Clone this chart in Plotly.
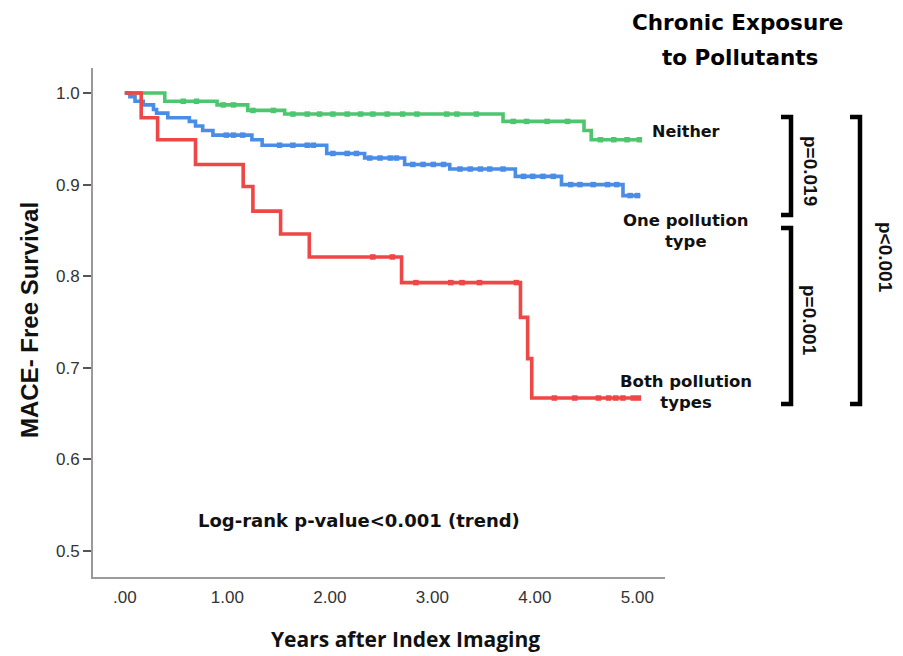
import numpy as np
import plotly.graph_objects as go

# ---------------- data ----------------
x_tick_vals = [0, 1, 2, 3, 4, 5]
x_tick_text = [".00", "1.00", "2.00", "3.00", "4.00", "5.00"]
y_tick_vals = [0.5, 0.6, 0.7, 0.8, 0.9, 1.0]
y_tick_text = ["0.5", "0.6", "0.7", "0.8", "0.9", "1.0"]

neither_t = [0, 0.39, 0.90, 1.20, 1.56, 3.69, 4.48, 4.55, 5.03]
neither_s = [1.0, 0.991, 0.987, 0.981, 0.977, 0.969, 0.959, 0.949, 0.949]
neither_cens = [0.57, 0.70, 0.96, 1.06, 1.25, 1.45, 1.64, 1.78, 1.90, 2.03, 2.17, 2.30,
                2.42, 2.56, 2.71, 2.85, 3.14, 3.24, 3.43, 3.79, 3.92, 4.12, 4.32,
                4.64, 4.77, 4.90, 5.02]

one_t = [0, 0.05, 0.10, 0.18, 0.28, 0.31, 0.42, 0.63, 0.69, 0.76, 0.86, 1.24, 1.34,
         1.97, 2.34, 2.73, 3.17, 3.81, 4.26, 4.86, 5.03]
one_s = [1.0, 0.996, 0.991, 0.987, 0.982, 0.978, 0.973, 0.969, 0.964, 0.959, 0.954,
         0.949, 0.943, 0.934, 0.929, 0.922, 0.917, 0.909, 0.900, 0.888, 0.888]
one_cens = [0.99, 1.06, 1.15, 1.51, 1.64, 1.78, 1.84, 2.03, 2.17, 2.26, 2.39, 2.49,
            2.59, 2.65, 2.81, 2.91, 3.01, 3.11, 3.27, 3.37, 3.47, 3.56, 3.69, 3.89,
            3.98, 4.08, 4.18, 4.35, 4.44, 4.57, 4.71, 4.80, 4.93, 5.00]

both_t = [0, 0.16, 0.32, 0.69, 1.155, 1.25, 1.52, 1.80, 2.70, 3.86, 3.93, 3.97, 5.02]
both_s = [1.0, 0.973, 0.949, 0.922, 0.898, 0.871, 0.846, 0.821, 0.793, 0.755, 0.710,
          0.667, 0.667]
both_cens = [2.42, 2.61, 2.84, 3.18, 3.29, 3.46, 3.82, 4.19, 4.39, 4.62, 4.72, 4.79,
             4.86, 4.96, 5.01]

series = [
    ("Neither", neither_t, neither_s, neither_cens, "#4EC56F"),
    ("One pollution type", one_t, one_s, one_cens, "#4A8DE6"),
    ("Both pollution types", both_t, both_s, both_cens, "#EF4646"),
]

# ---------------- figure ----------------
# page pixel positions (the page body has an 8 px margin)
OFF = 8
W, H = 903 - OFF, 656 - OFF
L, R, T, B = 93, 665, 68, 577


def px(xp):
    return (xp - L) / (R - L)


def py(yp):
    return (B - yp) / (B - T)


fig = go.Figure()
for name, t, s, cens, col in series:
    fig.add_trace(go.Scatter(x=t, y=s, mode="lines", line=dict(color=col, width=3.6, shape="hv"),
                             name=name, showlegend=False, hoverinfo="skip"))
    t_arr = np.array(t)
    s_arr = np.array(s)
    idx = np.searchsorted(t_arr, np.array(cens), side="right") - 1
    fig.add_trace(go.Scatter(x=cens, y=s_arr[idx], mode="markers",
                             marker=dict(symbol="square", size=5.5, color=col),
                             showlegend=False, hoverinfo="skip"))

BOLD_H = "DejaVu Sans, Verdana, sans-serif"
ARIAL = "Liberation Sans, Arial, Helvetica, sans-serif"

annots = []


def add_text(text, x, y, size, family=BOLD_H, angle=0, weight="bold", color="#111"):
    annots.append(dict(text=text, x=px(x), y=py(y), xref="paper", yref="paper",
                       xanchor="center", yanchor="middle", showarrow=False, textangle=angle,
                       font=dict(family=family, size=size, color=color, weight=weight)))


add_text("Chronic Exposure", 737, 22, 21.5, color="#000")
add_text("to Pollutants", 740, 57, 21.5, color="#000")
add_text("Neither", 686, 131, 16)
add_text("One pollution<br>type", 686, 231, 16.5)
add_text("Both pollution<br>types", 686, 392, 16.5)
add_text("Log-rank p-value<0.001 (trend)", 359, 520, 18)
add_text("p=0.019", 811, 171, 19, family=ARIAL, angle=90)
add_text("p=0.001", 810, 320, 19, family=ARIAL, angle=90)
add_text("p<0.001", 886, 257, 19, family=ARIAL, angle=90)
add_text("MACE- Free Survival", 29, 320, 24, family=ARIAL, angle=-90)
add_text("Years after Index Imaging", 405, 639, 21, family="Open Sans, Lato, sans-serif")

shapes = []
for x0, x1, top, bot in [(781, 791, 117, 215), (781, 791, 228, 404), (850, 860, 117, 404)]:
    path = "M {:.4f},{:.4f} L {:.4f},{:.4f} L {:.4f},{:.4f} L {:.4f},{:.4f}".format(
        px(x0), py(top), px(x1), py(top), px(x1), py(bot), px(x0), py(bot))
    shapes.append(dict(type="path", path=path, xref="paper", yref="paper",
                       line=dict(color="black", width=4.5)))

fig.update_layout(
    width=W, height=H,
    margin=dict(l=L - OFF, r=W - (R - OFF), t=T - OFF, b=H - (B - OFF), pad=0),
    paper_bgcolor="white", plot_bgcolor="white",
    annotations=annots, shapes=shapes,
    xaxis=dict(range=[-0.31, 5.27], showline=True, linecolor="#9a9a9a", linewidth=2,
               ticks="outside", ticklen=4, tickcolor="rgba(0,0,0,0)",
               tickvals=x_tick_vals, ticktext=x_tick_text, showgrid=False, zeroline=False,
               tickfont=dict(family=ARIAL, size=17, color="#333"), automargin=False),
    yaxis=dict(range=[0.4716, 1.0273], showline=True, linecolor="#9a9a9a", linewidth=2,
               ticks="outside", ticklen=8, tickwidth=2, tickcolor="#555",
               tickvals=y_tick_vals, ticktext=y_tick_text, showgrid=False, zeroline=False,
               tickfont=dict(family=ARIAL, size=17, color="#333"), automargin=False),
)

fig.write_html("out.html")
